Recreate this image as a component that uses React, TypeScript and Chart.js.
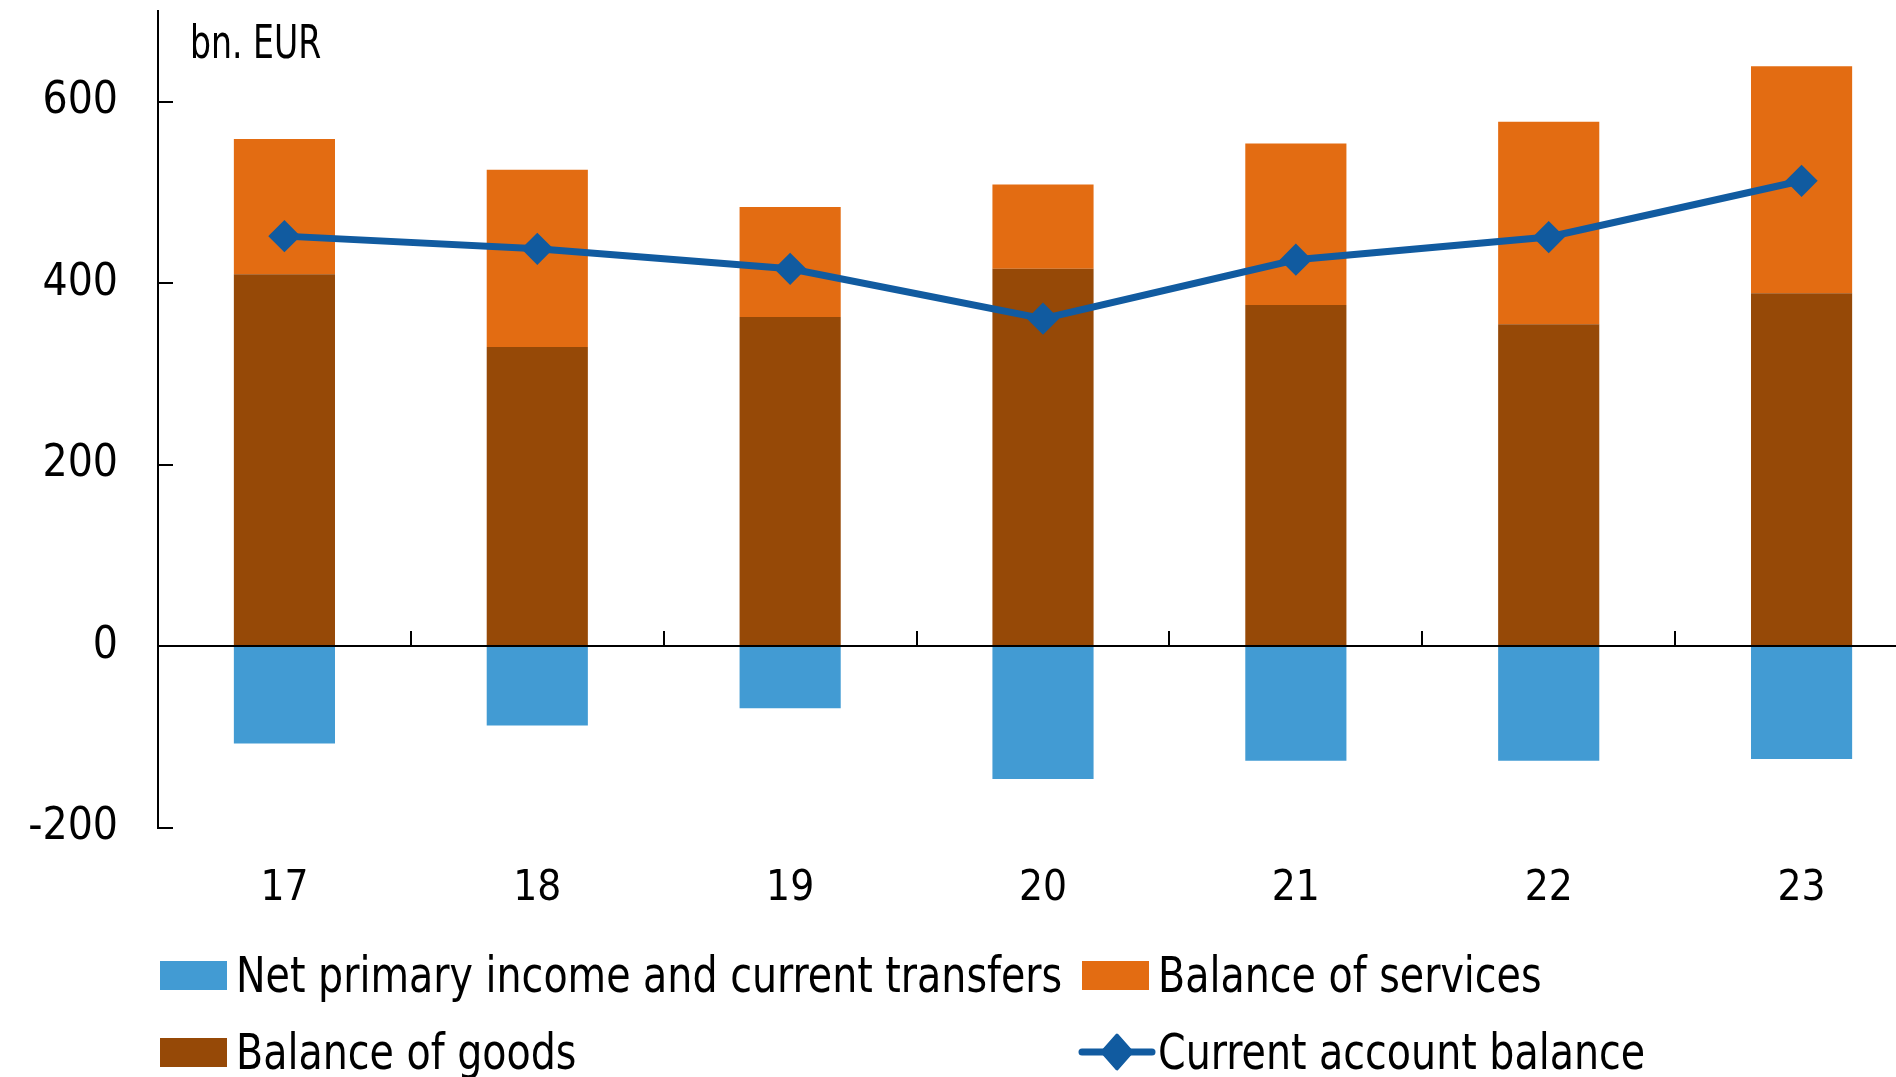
import React, { useEffect, useRef } from 'react';
import { Chart, registerables } from 'chart.js';

Chart.register(...registerables);

const years = ['17', '18', '19', '20', '21', '22', '23'];
const balanceOfGoods = [410, 330, 363, 416, 376, 355, 389];
const balanceOfServices = [149, 195, 121, 93, 178, 223, 250];
const netPrimaryIncome = [-107, -87, -68, -146, -126, -126, -124];
const currentAccountBalance = [452, 438, 416, 361, 426, 451, 513];
const yTickValues = [-200, 0, 200, 400, 600];
const unitLabel = 'bn. EUR';

const labelGoods = 'Balance of goods';
const labelServices = 'Balance of services';
const labelNet = 'Net primary income and current transfers';
const labelCab = 'Current account balance';

const COL_NET = '#429BD3';
const COL_SERV = '#E36C12';
const COL_GOODS = '#964907';
const COL_LINE = '#115BA0';

const FONT = '"DejaVu Sans Condensed", "DejaVu Sans", sans-serif';

// the plot area runs past the right edge of the window in the reference,
// and the axis starts a little above the minimum top padding Chart.js allows
const SHIFT = 6;
const CANVAS_W = 1945;
const CANVAS_H = 1077 + SHIFT;

function drawCondensed(ctx: CanvasRenderingContext2D, text: string, x: number, y: number, sx: number) {
  ctx.save();
  ctx.translate(x, y);
  ctx.scale(sx, 1);
  ctx.fillText(text, 0, 0);
  ctx.restore();
}

const decorPlugin = {
  id: 'decor',
  afterDraw(chart: any) {
    const ctx = chart.ctx as CanvasRenderingContext2D;
    const x = chart.scales.x;
    const y = chart.scales.y;
    const area = chart.chartArea;
    ctx.save();
    ctx.strokeStyle = '#000';
    ctx.lineWidth = 2;
    const y0 = Math.round(y.getPixelForValue(0));
    ctx.beginPath();
    ctx.moveTo(area.left, y0);
    ctx.lineTo(chart.width, y0);
    ctx.stroke();
    yTickValues.forEach((v) => {
      const py = Math.round(y.getPixelForValue(v));
      ctx.beginPath();
      ctx.moveTo(area.left, py);
      ctx.lineTo(area.left + 15, py);
      ctx.stroke();
    });
    for (let i = 0; i < years.length - 1; i++) {
      const px = Math.round((x.getPixelForValue(i) + x.getPixelForValue(i + 1)) / 2);
      ctx.beginPath();
      ctx.moveTo(px, y0);
      ctx.lineTo(px, y0 - 15);
      ctx.stroke();
    }
    ctx.fillStyle = '#000';
    ctx.font = `46px ${FONT}`;
    ctx.textAlign = 'left';
    ctx.textBaseline = 'alphabetic';
    drawCondensed(ctx, unitLabel, area.left + 32, 58 + SHIFT, 0.8);

    ctx.font = `50px ${FONT}`;
    const rows = [975 + SHIFT, 1052 + SHIFT];
    const cols = [160, 1082];
    const items = [
      { label: labelNet, color: COL_NET, kind: 'box', col: 0, row: 0 },
      { label: labelServices, color: COL_SERV, kind: 'box', col: 1, row: 0 },
      { label: labelGoods, color: COL_GOODS, kind: 'box', col: 0, row: 1 },
      { label: labelCab, color: COL_LINE, kind: 'line', col: 1, row: 1 },
    ];
    items.forEach((it) => {
      const cx = cols[it.col];
      const cy = rows[it.row];
      if (it.kind === 'box') {
        ctx.fillStyle = it.color;
        ctx.fillRect(cx, cy - 14, 67, 29);
      } else {
        ctx.strokeStyle = it.color;
        ctx.lineWidth = 7;
        ctx.lineCap = 'round';
        ctx.beginPath();
        ctx.moveTo(cx, cy);
        ctx.lineTo(cx + 70, cy);
        ctx.stroke();
        ctx.fillStyle = it.color;
        ctx.lineJoin = 'round';
        ctx.lineWidth = 3;
        const mx = cx + 35;
        ctx.beginPath();
        ctx.moveTo(mx, cy - 17);
        ctx.lineTo(mx + 15, cy);
        ctx.lineTo(mx, cy + 17);
        ctx.lineTo(mx - 15, cy);
        ctx.closePath();
        ctx.fill();
        ctx.stroke();
      }
      ctx.fillStyle = '#000';
      ctx.textBaseline = 'alphabetic';
      drawCondensed(ctx, it.label, cx + 76, cy + 17, 0.88);
    });
    ctx.restore();
  },
};

export default function App() {
  const ref = useRef<HTMLCanvasElement | null>(null);

  useEffect(() => {
    document.body.style.margin = '0';
    document.body.style.overflow = 'hidden';
    const canvas = ref.current;
    if (!canvas) return;
    const chart = new Chart(canvas, {
      type: 'bar',
      data: {
        labels: years,
        datasets: [
          {
            type: 'line',
            label: labelCab,
            data: currentAccountBalance,
            borderColor: COL_LINE,
            backgroundColor: COL_LINE,
            borderWidth: 7,
            pointStyle: 'rectRot',
            pointRadius: 14,
            pointBorderWidth: 3,
            pointBackgroundColor: COL_LINE,
            pointBorderColor: COL_LINE,
            tension: 0,
            stack: 'cab',
            order: -1,
          } as any,
          {
            label: labelGoods,
            data: balanceOfGoods,
            backgroundColor: COL_GOODS,
            stack: 'bars',
            order: 0,
          },
          {
            label: labelServices,
            data: balanceOfServices,
            backgroundColor: COL_SERV,
            stack: 'bars',
            order: 0,
          },
          {
            label: labelNet,
            data: netPrimaryIncome,
            backgroundColor: COL_NET,
            stack: 'bars',
            order: 0,
          },
        ],
      },
      options: {
        responsive: false,
        animation: false,
        devicePixelRatio: 1,
        layout: { padding: { top: 5, bottom: 170, left: 0, right: 0 } },
        datasets: {
          bar: { categoryPercentage: 1, barPercentage: 0.4 },
        },
        plugins: {
          legend: { display: false },
          tooltip: { enabled: false },
        },
        scales: {
          x: {
            stacked: true,
            grid: { display: false, drawTicks: false },
            border: { display: false },
            ticks: {
              color: '#000',
              font: { family: FONT, size: 42 },
              padding: 36,
              maxRotation: 0,
            },
            afterFit: (s: any) => {
              s.height = 79;
              s.paddingLeft = 0;
              s.paddingRight = 0;
            },
          },
          y: {
            stacked: true,
            min: -200,
            max: 700,
            grid: { display: false, drawTicks: false },
            border: { display: true, color: '#000', width: 2 },
            ticks: {
              stepSize: 200,
              color: '#000',
              font: { family: FONT, size: 44 },
              padding: 40,
            },
            afterBuildTicks: (s: any) => {
              s.ticks = yTickValues.map((v) => ({ value: v }));
            },
            afterFit: (s: any) => {
              s.width = 158;
              s.paddingTop = 0;
              s.paddingBottom = 0;
            },
          },
        },
      },
      plugins: [decorPlugin],
    });
    return () => chart.destroy();
  }, []);

  return (
    <div style={{ width: 1896, height: 1077, overflow: 'hidden', background: '#fff' }}>
      <canvas
        ref={ref}
        width={CANVAS_W}
        height={CANVAS_H}
        style={{ display: 'block', marginTop: -SHIFT }}
      />
    </div>
  );
}
